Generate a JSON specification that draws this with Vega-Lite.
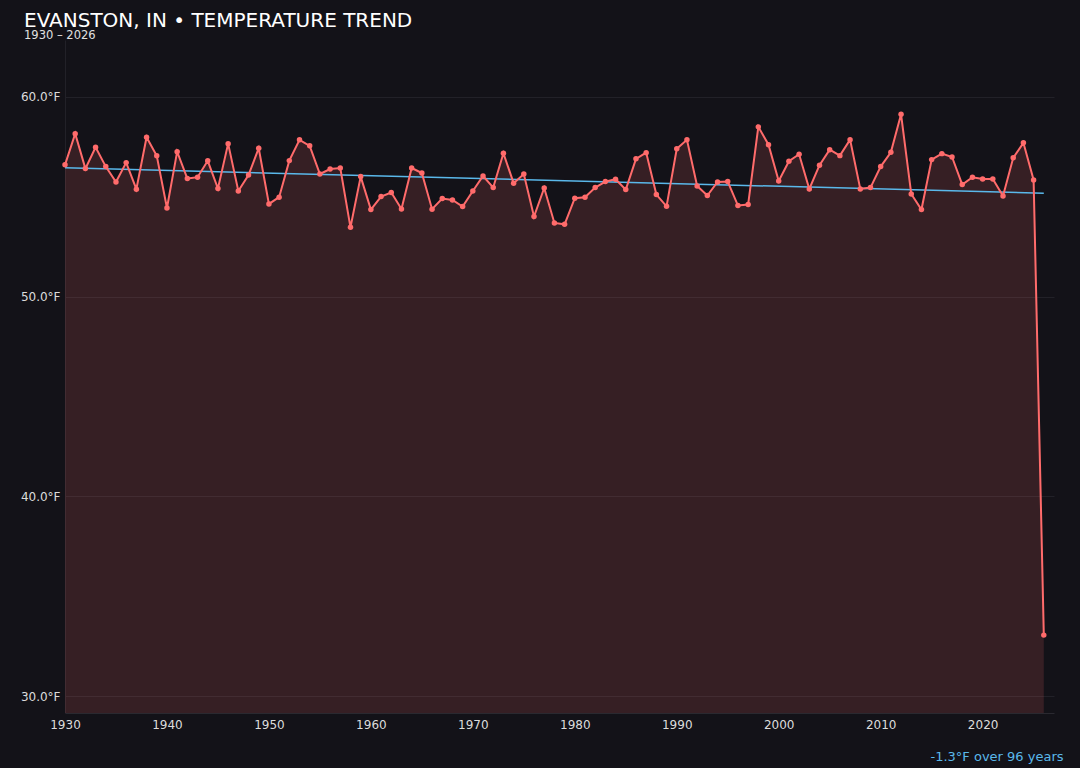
{
  "$schema": "https://vega.github.io/schema/vega-lite/v6.json",
  "autosize": {"type": "none"},
  "width": 989,
  "height": 673,
  "padding": {"left": 65, "top": 40, "right": 26, "bottom": 55},
  "background": "#131218",
  "title": {
    "text": "EVANSTON, IN • TEMPERATURE TREND",
    "subtitle": "1930 – 2026",
    "anchor": "start",
    "frame": "group",
    "dx": -41,
    "offset": -1,
    "font": "DejaVu Sans",
    "fontSize": 20,
    "fontWeight": "normal",
    "color": "#ffffff",
    "subtitleFont": "DejaVu Sans",
    "subtitleFontSize": 11.5,
    "subtitleColor": "#e0e0e0",
    "subtitlePadding": -1
  },
  "datasets": {
    "temps": [
      {"year": 1930, "temp": 56.6}, {"year": 1931, "temp": 58.16}, {"year": 1932, "temp": 56.41},
      {"year": 1933, "temp": 57.48}, {"year": 1934, "temp": 56.51}, {"year": 1935, "temp": 55.74},
      {"year": 1936, "temp": 56.71}, {"year": 1937, "temp": 55.38}, {"year": 1938, "temp": 57.98},
      {"year": 1939, "temp": 57.05}, {"year": 1940, "temp": 54.44}, {"year": 1941, "temp": 57.26},
      {"year": 1942, "temp": 55.91}, {"year": 1943, "temp": 55.98}, {"year": 1944, "temp": 56.8},
      {"year": 1945, "temp": 55.41}, {"year": 1946, "temp": 57.66}, {"year": 1947, "temp": 55.29},
      {"year": 1948, "temp": 56.09}, {"year": 1949, "temp": 57.43}, {"year": 1950, "temp": 54.64},
      {"year": 1951, "temp": 54.98}, {"year": 1952, "temp": 56.81}, {"year": 1953, "temp": 57.85},
      {"year": 1954, "temp": 57.55}, {"year": 1955, "temp": 56.14}, {"year": 1956, "temp": 56.39},
      {"year": 1957, "temp": 56.44}, {"year": 1958, "temp": 53.47}, {"year": 1959, "temp": 56.01},
      {"year": 1960, "temp": 54.36}, {"year": 1961, "temp": 55.01}, {"year": 1962, "temp": 55.21},
      {"year": 1963, "temp": 54.39}, {"year": 1964, "temp": 56.44}, {"year": 1965, "temp": 56.19},
      {"year": 1966, "temp": 54.38}, {"year": 1967, "temp": 54.91}, {"year": 1968, "temp": 54.84},
      {"year": 1969, "temp": 54.51}, {"year": 1970, "temp": 55.29}, {"year": 1971, "temp": 56.04},
      {"year": 1972, "temp": 55.46}, {"year": 1973, "temp": 57.18}, {"year": 1974, "temp": 55.68},
      {"year": 1975, "temp": 56.14}, {"year": 1976, "temp": 54.01}, {"year": 1977, "temp": 55.44},
      {"year": 1978, "temp": 53.69}, {"year": 1979, "temp": 53.62}, {"year": 1980, "temp": 54.93},
      {"year": 1981, "temp": 54.98}, {"year": 1982, "temp": 55.46}, {"year": 1983, "temp": 55.76},
      {"year": 1984, "temp": 55.88}, {"year": 1985, "temp": 55.36}, {"year": 1986, "temp": 56.9},
      {"year": 1987, "temp": 57.21}, {"year": 1988, "temp": 55.11}, {"year": 1989, "temp": 54.52},
      {"year": 1990, "temp": 57.4}, {"year": 1991, "temp": 57.85}, {"year": 1992, "temp": 55.54},
      {"year": 1993, "temp": 55.06}, {"year": 1994, "temp": 55.74}, {"year": 1995, "temp": 55.76},
      {"year": 1996, "temp": 54.56}, {"year": 1997, "temp": 54.61}, {"year": 1998, "temp": 58.5},
      {"year": 1999, "temp": 57.61}, {"year": 2000, "temp": 55.79}, {"year": 2001, "temp": 56.78},
      {"year": 2002, "temp": 57.13}, {"year": 2003, "temp": 55.39}, {"year": 2004, "temp": 56.58},
      {"year": 2005, "temp": 57.36}, {"year": 2006, "temp": 57.06}, {"year": 2007, "temp": 57.86},
      {"year": 2008, "temp": 55.39}, {"year": 2009, "temp": 55.46}, {"year": 2010, "temp": 56.51},
      {"year": 2011, "temp": 57.23}, {"year": 2012, "temp": 59.13}, {"year": 2013, "temp": 55.14},
      {"year": 2014, "temp": 54.36}, {"year": 2015, "temp": 56.86}, {"year": 2016, "temp": 57.16},
      {"year": 2017, "temp": 56.99}, {"year": 2018, "temp": 55.61}, {"year": 2019, "temp": 55.98},
      {"year": 2020, "temp": 55.89}, {"year": 2021, "temp": 55.89}, {"year": 2022, "temp": 55.04},
      {"year": 2023, "temp": 56.95}, {"year": 2024, "temp": 57.7}, {"year": 2025, "temp": 55.84},
      {"year": 2026, "temp": 33.05}
    ],
    "trend": [
      {"year": 1930, "temp": 56.45},
      {"year": 2026, "temp": 55.18}
    ]
  },
  "encoding": {
    "x": {
      "field": "year",
      "type": "quantitative",
      "scale": {"domain": [1930, 2027], "nice": false, "zero": false},
      "axis": {
        "values": [1930, 1940, 1950, 1960, 1970, 1980, 1990, 2000, 2010, 2020],
        "format": "d",
        "grid": false,
        "ticks": false,
        "labelFlush": false,
        "labelPadding": 6,
        "domainColor": "#2a2930",
        "title": "-1.3°F over 96 years",
        "titleAnchor": "end",
        "titleAlign": "right",
        "titleBaseline": "alphabetic",
        "titleX": 998,
        "titleY": 47,
        "titleColor": "#5ab8ea",
        "titleFont": "DejaVu Sans",
        "titleFontSize": 13,
        "titleFontWeight": "normal"
      }
    },
    "y": {
      "field": "temp",
      "type": "quantitative",
      "scale": {"domain": [29.15, 62.85], "nice": false, "zero": false},
      "axis": {
        "values": [30, 40, 50, 60],
        "labelExpr": "format(datum.value, '.1f') + '°F'",
        "title": null,
        "ticks": false,
        "labelPadding": 5,
        "grid": true,
        "gridColor": "#222128",
        "domainColor": "#222128"
      }
    }
  },
  "layer": [
    {
      "data": {"name": "temps"},
      "mark": {"type": "area", "color": "#ff6b6b", "opacity": 0.15, "clip": true}
    },
    {
      "data": {"name": "trend"},
      "mark": {"type": "line", "color": "#5ab8ea", "strokeWidth": 1.5}
    },
    {
      "data": {"name": "temps"},
      "mark": {
        "type": "line",
        "color": "#ff6b6b",
        "strokeWidth": 2,
        "point": {"filled": true, "size": 30, "color": "#ff6b6b", "opacity": 1}
      }
    }
  ],
  "config": {
    "view": {"stroke": null},
    "axis": {
      "labelFont": "DejaVu Sans",
      "labelFontSize": 12,
      "labelColor": "#dcdcdc"
    }
  }
}
